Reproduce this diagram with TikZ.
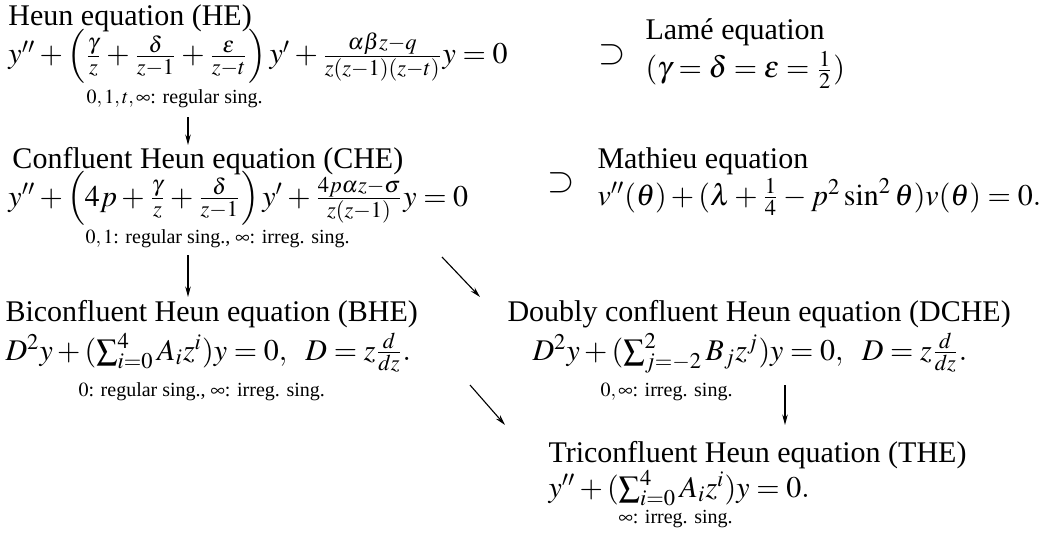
\documentclass[12pt,tikz,border=0pt]{standalone}
\usepackage{mathptmx}
\usepackage{fontspec}
\setmainfont{Liberation Serif}
\usetikzlibrary{arrows.meta}
\begin{document}
\begin{tikzpicture}[x=0.4pt,y=-0.4pt,
  lbl/.style={inner sep=0pt, anchor=base west},
  note/.style={inner sep=0pt, anchor=base west, font=\scriptsize},
  supset/.style={inner sep=0pt, anchor=center, font=\fontsize{14}{16}\selectfont},
  arr/.style={-{Stealth[length=4.2pt,width=2.2pt]}, line width=0.45pt}]
\useasboundingbox (0,0) rectangle (1048,533);
% Heun
\node[lbl] (he) at (8,25) {Heun equation (HE)};
\node[lbl] (heeq) at (8,64) {$y''+\Bigl(\frac{\gamma}{z}+\frac{\delta}{z-1}+\frac{\varepsilon}{z-t}\Bigr)\,y'+\frac{\alpha\beta z-q}{z(z-1)(z-t)}y=0$};
\node[note] (hes) at (86,104) {$0,1,t,\infty$: regular sing.};
% Lame
\node[supset] (sup1) at (612,55) {$\supset$};
\node[lbl] (lame) at (645,40) {Lamé equation};
\node[lbl] (lameeq) at (645,78) {$(\gamma=\delta=\varepsilon=\frac{1}{2})$};
% CHE
\node[lbl] (che) at (12,168) {Confluent Heun equation (CHE)};
\node[lbl] (cheeq) at (8,206) {$y''+\Bigl(4p+\frac{\gamma}{z}+\frac{\delta}{z-1}\Bigr)\,y'+\frac{4p\alpha z-\sigma}{z(z-1)}y=0$};
\node[note] (ches) at (85,243) {$0,1$: regular sing., $\infty$: irreg. sing.};
% Mathieu
\node[supset] (sup2) at (561,183) {$\supset$};
\node[lbl] (mat) at (597,168) {Mathieu equation};
\node[lbl] (mateq) at (597,205) {$v''(\theta)+(\lambda+\frac{1}{4}-p^2\sin^2\theta)v(\theta)=0.$};
% BHE
\node[lbl] (bhe) at (5,321) {Biconfluent Heun equation (BHE)};
\node[lbl] (bheeq) at (5,360) {$D^2y+(\sum_{i=0}^{4}A_iz^i)y=0,\ \ D=z\frac{d}{dz}.$};
\node[note] (bhes) at (78,396) {$0$: regular sing., $\infty$: irreg. sing.};
% DCHE
\node[lbl] (dche) at (507,321) {Doubly confluent Heun equation (DCHE)};
\node[lbl] (dcheeq) at (532,360) {$D^2y+(\sum_{j=-2}^{2}B_jz^j)y=0,\ \ D=z\frac{d}{dz}.$};
\node[note] (dches) at (600,396) {$0,\infty$: irreg. sing.};
% THE
\node[lbl] (the) at (548,462) {Triconfluent Heun equation (THE)};
\node[lbl] (theeq) at (548,497) {$y''+(\sum_{i=0}^{4}A_iz^i)y=0.$};
\node[note] (thes) at (618,523) {$\infty$: irreg. sing.};
% arrows
\coordinate (a1s) at (188,117); \coordinate (a1e) at (188,145);
\coordinate (a2s) at (188,255); \coordinate (a2e) at (188,297);
\coordinate (a3s) at (442,257); \coordinate (a3e) at (480,297);
\coordinate (a4s) at (470,385); \coordinate (a4e) at (505,425);
\coordinate (a5s) at (785,385); \coordinate (a5e) at (785,425);
\draw[arr] (a1s) -- (a1e);
\draw[arr] (a2s) -- (a2e);
\draw[arr] (a3s) -- (a3e);
\draw[arr] (a4s) -- (a4e);
\draw[arr] (a5s) -- (a5e);
\end{tikzpicture}
\end{document}
